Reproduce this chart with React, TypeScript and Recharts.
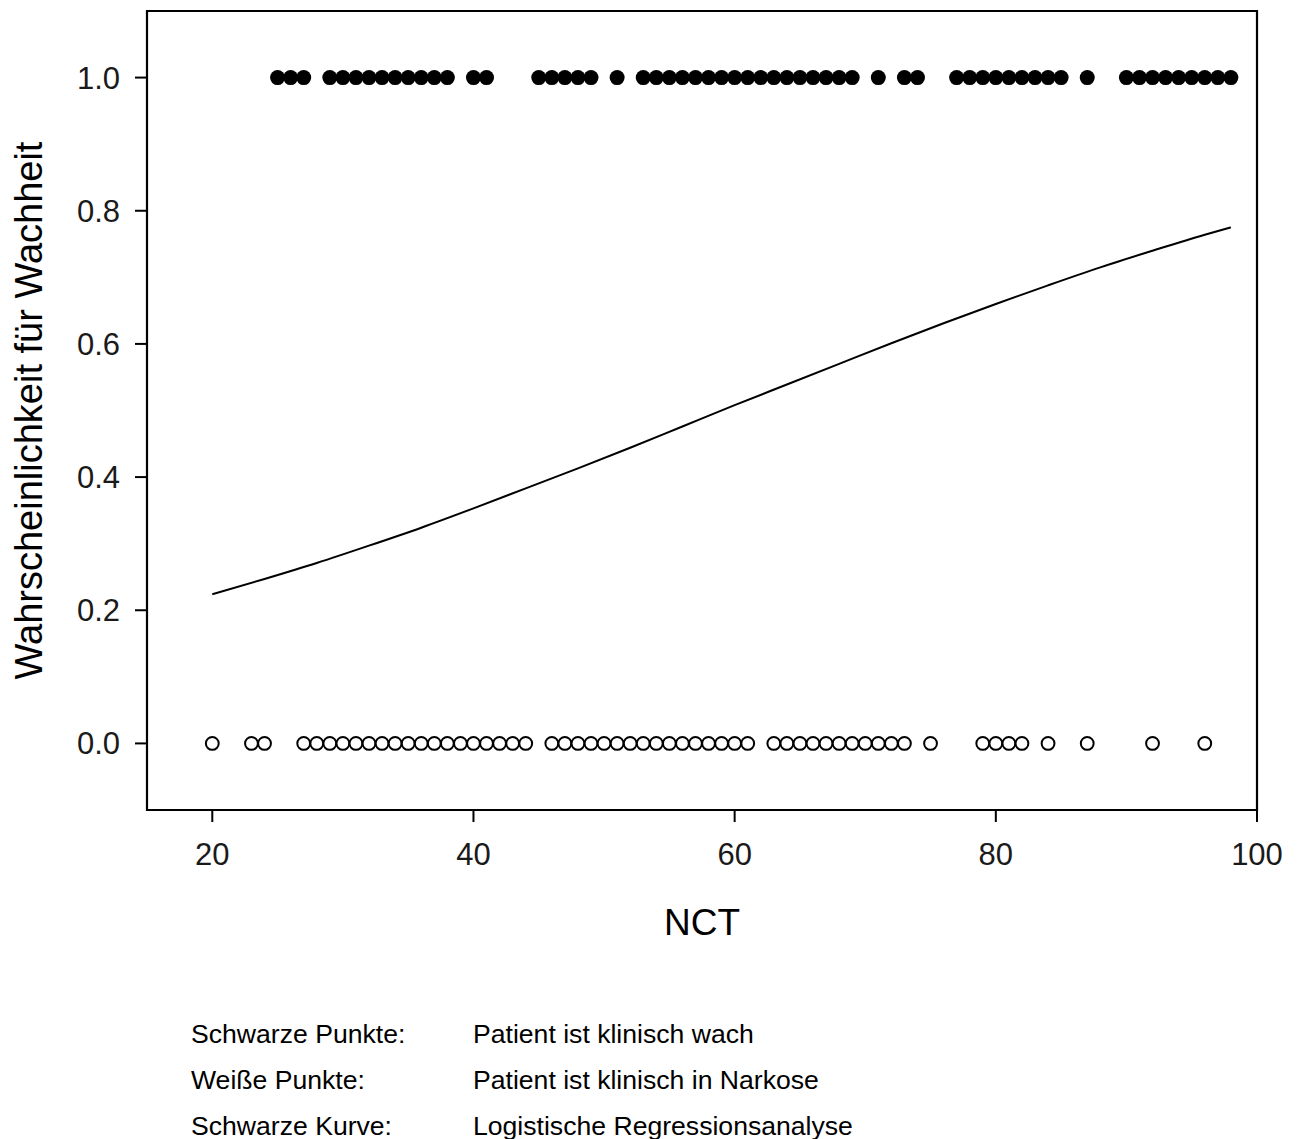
import React from 'react';
import { ComposedChart, Scatter, Line, XAxis, YAxis, ReferenceArea } from 'recharts';

// NCT values of clinically awake patients (black points, y = 1)
const awakeNCT = [
  25, 26, 27, 29, 30, 31, 32, 33, 34, 35, 36, 37, 38, 40, 41,
  45, 46, 47, 48, 49, 51,
  53, 54, 55, 56, 57, 58, 59, 60, 61, 62, 63, 64, 65, 66, 67, 68, 69,
  71, 73, 74, 77, 78, 79, 80, 81, 82, 83, 84, 85, 87,
  90, 91, 92, 93, 94, 95, 96, 97, 98,
];

// NCT values of patients under anaesthesia (white points, y = 0)
const narcosisNCT = [
  20, 23, 24,
  27, 28, 29, 30, 31, 32, 33, 34, 35, 36, 37, 38, 39, 40, 41, 42, 43, 44,
  46, 47, 48, 49, 50, 51, 52, 53, 54, 55, 56, 57, 58, 59, 60, 61,
  63, 64, 65, 66, 67, 68, 69, 70, 71, 72, 73,
  75, 79, 80, 81, 82, 84, 87, 92, 96,
];

// Logistic regression curve
const curveNCT = [20, 24, 28, 32, 36, 40, 44, 48, 52, 56, 60, 64, 68, 72, 76, 80, 84, 88, 92, 96, 98];
const curveProb = [
  0.224, 0.247, 0.271, 0.297, 0.324, 0.353, 0.383, 0.413, 0.444, 0.476, 0.508,
  0.539, 0.570, 0.601, 0.631, 0.660, 0.688, 0.715, 0.740, 0.764, 0.775,
];

const xTicks = [20, 40, 60, 80, 100];
const yTicks = [0, 0.2, 0.4, 0.6, 0.8, 1.0];

const legendLabels = ['Schwarze Punkte:', 'Weiße Punkte:', 'Schwarze Kurve:'];
const legendTexts = [
  'Patient ist klinisch wach',
  'Patient ist klinisch in Narkose',
  'Logistische Regressionsanalyse',
];

const awakeData = awakeNCT.map((x) => ({ x, y: 1 }));
const narcosisData = narcosisNCT.map((x) => ({ x, y: 0 }));
const curveData = curveNCT.map((x, i) => ({ x, y: curveProb[i] }));

const FONT = '"Liberation Sans", Arial, Helvetica, sans-serif';

const FilledDot = (props: any) => (
  <circle cx={props.cx} cy={props.cy} r={7.5} fill="#000" />
);
const HollowDot = (props: any) => (
  <circle cx={props.cx} cy={props.cy} r={6.4} fill="#fff" stroke="#000" strokeWidth={2} />
);

export default function App() {
  return (
    <div
      style={{
        position: 'absolute',
        left: 0,
        top: 0,
        width: 1300,
        height: 1139,
        background: '#fff',
        fontFamily: FONT,
      }}
    >
      <ComposedChart
        width={1300}
        height={1139}
        margin={{ top: 11, right: 43, left: 0, bottom: 189 }}
      >
        <XAxis
          type="number"
          dataKey="x"
          domain={[15, 100]}
          ticks={xTicks}
          allowDataOverflow
          height={140}
          axisLine={false}
          tickLine={{ stroke: '#000', strokeWidth: 2 }}
          tickSize={12}
          tickMargin={21}
          tick={{ fontSize: 31, fill: '#1a1a1a', fontFamily: FONT }}
          label={{
            value: 'NCT',
            position: 'insideBottom',
            offset: 15,
            fontSize: 37,
            fill: '#000',
            fontFamily: FONT,
          }}
        />
        <YAxis
          type="number"
          dataKey="y"
          domain={[-0.1, 1.1]}
          ticks={yTicks}
          allowDataOverflow
          width={147}
          axisLine={false}
          tickLine={{ stroke: '#000', strokeWidth: 2 }}
          tickSize={12}
          tickMargin={15}
          tickFormatter={(v: number) => v.toFixed(1)}
          tick={{ fontSize: 31, fill: '#1a1a1a', fontFamily: FONT }}
          label={{
            value: 'Wahrscheinlichkeit für Wachheit',
            angle: -90,
            position: 'insideLeft',
            offset: 29,
            fontSize: 38,
            fill: '#000',
            fontFamily: FONT,
            style: { textAnchor: 'middle' },
          }}
        />
        <ReferenceArea
          x1={15}
          x2={100}
          y1={-0.1}
          y2={1.1}
          fill="none"
          fillOpacity={0}
          stroke="#000"
          strokeWidth={2.2}
          ifOverflow="visible"
        />
        <Line
          data={curveData}
          dataKey="y"
          type="monotone"
          stroke="#000"
          strokeWidth={2}
          dot={false}
          activeDot={false}
          isAnimationActive={false}
        />
        <Scatter data={awakeData} shape={FilledDot} isAnimationActive={false} />
        <Scatter data={narcosisData} shape={HollowDot} isAnimationActive={false} />
      </ComposedChart>
      {legendLabels.map((lab, i) => (
        <React.Fragment key={lab}>
          <div
            style={{
              position: 'absolute',
              left: 191,
              top: 1034 + i * 46 - 15,
              fontSize: 26.6,
              lineHeight: '30px',
              color: '#000',
              whiteSpace: 'nowrap',
            }}
          >
            {lab}
          </div>
          <div
            style={{
              position: 'absolute',
              left: 473,
              top: 1034 + i * 46 - 15,
              fontSize: 26.6,
              lineHeight: '30px',
              color: '#000',
              whiteSpace: 'nowrap',
            }}
          >
            {legendTexts[i]}
          </div>
        </React.Fragment>
      ))}
    </div>
  );
}
